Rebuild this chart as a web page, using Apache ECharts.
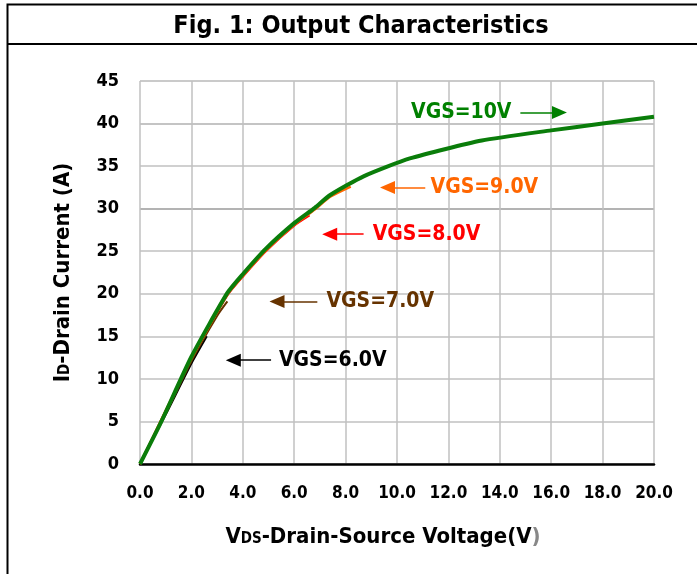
<!DOCTYPE html>
<html>
<head>
<meta charset="utf-8">
<script src="https://cdn.jsdelivr.net/npm/echarts@6/dist/echarts.min.js"></script>
<style>
    html, body { margin: 0; padding: 0; background: #fff; }
    #chart_output { width: 697px; height: 574px; }
</style>
</head>
<body>
<div id="chart_output"></div>
<script>
var fontFam = "'Liberation Sans Narrow', 'DejaVu Sans Condensed', 'Liberation Sans', sans-serif";

/*曲线数据*/
var vds6 = [0, 1.0, 2.0, 2.6];
var id6 = [0, 5.8, 11.8, 15.0];
var vds7 = [0, 1.0, 2.0, 3.0, 3.4];
var id7 = [0, 5.9, 12.1, 17.4, 19.1];
var vds8 = [0, 2.0, 3.4, 4.0, 4.9, 6.0, 6.6];
var id8 = [0, 12.4, 19.8, 22.0, 25.0, 28.0, 29.2];
var vds9 = [0, 2.0, 3.4, 4.0, 4.9, 6.0, 6.8, 7.4, 8.2];
var id9 = [0, 12.4, 19.9, 22.1, 25.1, 28.1, 29.9, 31.4, 32.6];
var vds10 = [0, 0.8, 2.0, 3.4, 4.0, 4.9, 6.0, 6.8, 7.4, 8.7, 10.5, 13.3, 16.0, 18.0, 20.0];
var id10 = [0, 4.8, 12.6, 20.1, 22.3, 25.3, 28.3, 30.1, 31.6, 33.8, 35.9, 38.0, 39.2, 40.0, 40.8];

/*标注: 文字, 文字中心x, 箭头线起点x, 箭头线终点x, y*/
var noteText = ['VGS=6.0V', 'VGS=7.0V', 'VGS=8.0V', 'VGS=9.0V', 'VGS=10V'];
var noteTextX = [7.5, 9.35, 11.15, 13.4, 12.5];
var noteTailX = [5.1, 6.9, 8.7, 11.1, 14.8];
var noteTipX = [3.63, 5.33, 7.38, 9.63, 16.32];
var noteY = [12.2, 19.1, 27.0, 32.5, 41.3];
var noteColor = ['#000000', '#663300', '#ff0000', '#ff6600', '#008000'];

function zip(xs, ys) {
    var arr = [];
    for (var i = 0; i < xs.length; i++) {
        arr.push([xs[i], ys[i]]);
    }
    return arr;
}

function curveSeries(name, xs, ys, color, width, k) {
    return {
        name: name,
        type: 'line',
        data: zip(xs, ys),
        symbol: 'none',
        smooth: 0.2,
        lineStyle: { color: color, width: width },
        z: 3 + k,
        markLine: {
            silent: true,
            symbol: ['none', 'triangle'],
            symbolSize: [13, 15],
            label: { show: false },
            itemStyle: { color: noteColor[k] },
            lineStyle: { color: noteColor[k], width: 1.5, type: 'solid' },
            data: [[
                { coord: [noteTailX[k], noteY[k]] },
                { coord: [noteTipX[k], noteY[k]] }
            ]]
        }
    };
}

var chart_output = echarts.init(document.getElementById('chart_output'));

var labelData = [];
for (var i = 0; i < noteText.length; i++) {
    labelData.push({
        value: [noteTextX[i], noteY[i]],
        label: { formatter: noteText[i], color: noteColor[i] }
    });
}

var gridColors = ['#c0c0c0', '#c0c0c0', '#c0c0c0', '#c0c0c0', '#c0c0c0', '#c0c0c0', '#9a9a9a', '#c0c0c0', '#b0b0b0', '#b8b8b8'];

var option = {
    animation: false,
    textStyle: { fontFamily: fontFam },
    title: {
        text: 'Fig. 1: Output Characteristics',
        left: 356,
        textAlign: 'center',
        top: 9,
        textStyle: { fontFamily: fontFam, fontSize: 25, fontWeight: 'bold', color: '#000' }
    },
    graphic: [
        {
            type: 'polyline',
            shape: { points: [[7.5, 580], [7.5, 4.5], [700, 4.5]] },
            style: { stroke: '#000', lineWidth: 2, fill: null }
        },
        {
            type: 'line',
            shape: { x1: 7.5, y1: 44, x2: 700, y2: 44 },
            style: { stroke: '#000', lineWidth: 2 }
        }
    ],
    grid: { left: 140, right: 43, top: 81, bottom: 110 },
    xAxis: {
        type: 'value',
        min: 0,
        max: 20,
        interval: 2,
        name: '{b|V}{s|DS}{b|-Drain-Source Voltage(V}{g|)}',
        nameLocation: 'middle',
        nameGap: 62,
        nameTextStyle: {
            padding: [0, 28, 0, 0],
            rich: {
                b: { fontFamily: fontFam, fontSize: 22, fontWeight: 'bold', color: '#000' },
                s: { fontFamily: fontFam, fontSize: 15, fontWeight: 'bold', color: '#000', verticalAlign: 'bottom', padding: [0, 0, 1, 0] },
                g: { fontFamily: fontFam, fontSize: 22, fontWeight: 'bold', color: '#888' }
            }
        },
        axisLine: { show: true, lineStyle: { color: '#000', width: 2.5 } },
        axisTick: { show: false },
        axisLabel: {
            margin: 21,
            fontFamily: fontFam,
            fontSize: 17,
            fontWeight: 'bold',
            color: '#000',
            formatter: function (v) { return v.toFixed(1); }
        },
        splitLine: { show: true, lineStyle: { color: '#c0c0c0', width: 1.5 } }
    },
    yAxis: {
        type: 'value',
        min: 0,
        max: 45,
        interval: 5,
        name: '{b|I}{s|D}{b|-Drain Current (A)}',
        nameLocation: 'middle',
        nameGap: 66,
        nameRotate: 90,
        nameTextStyle: {
            rich: {
                b: { fontFamily: fontFam, fontSize: 22, fontWeight: 'bold', color: '#000' },
                s: { fontFamily: fontFam, fontSize: 15, fontWeight: 'bold', color: '#000', verticalAlign: 'bottom', padding: [0, 0, 1, 0] }
            }
        },
        axisLine: { show: false },
        axisTick: { show: false },
        axisLabel: {
            margin: 21,
            fontFamily: fontFam,
            fontSize: 18,
            fontWeight: 'bold',
            color: '#000'
        },
        splitLine: { show: true, lineStyle: { color: gridColors, width: 1.5 } }
    },
    series: [
        curveSeries('VGS=6.0V', vds6, id6, '#000000', 2, 0),
        curveSeries('VGS=7.0V', vds7, id7, '#663300', 2, 1),
        curveSeries('VGS=8.0V', vds8, id8, '#ff0000', 2, 2),
        curveSeries('VGS=9.0V', vds9, id9, '#ff6600', 2.5, 3),
        curveSeries('VGS=10V', vds10, id10, '#0a7d0a', 4, 4),
        {
            name: 'notes',
            type: 'scatter',
            symbolSize: 0,
            silent: true,
            z: 10,
            itemStyle: { opacity: 1 },
            data: labelData,
            label: {
                show: true,
                position: 'inside',
                fontFamily: fontFam,
                fontSize: 21,
                fontWeight: 'bold'
            }
        }
    ]
};

chart_output.setOption(option);
</script>
</body>
</html>
